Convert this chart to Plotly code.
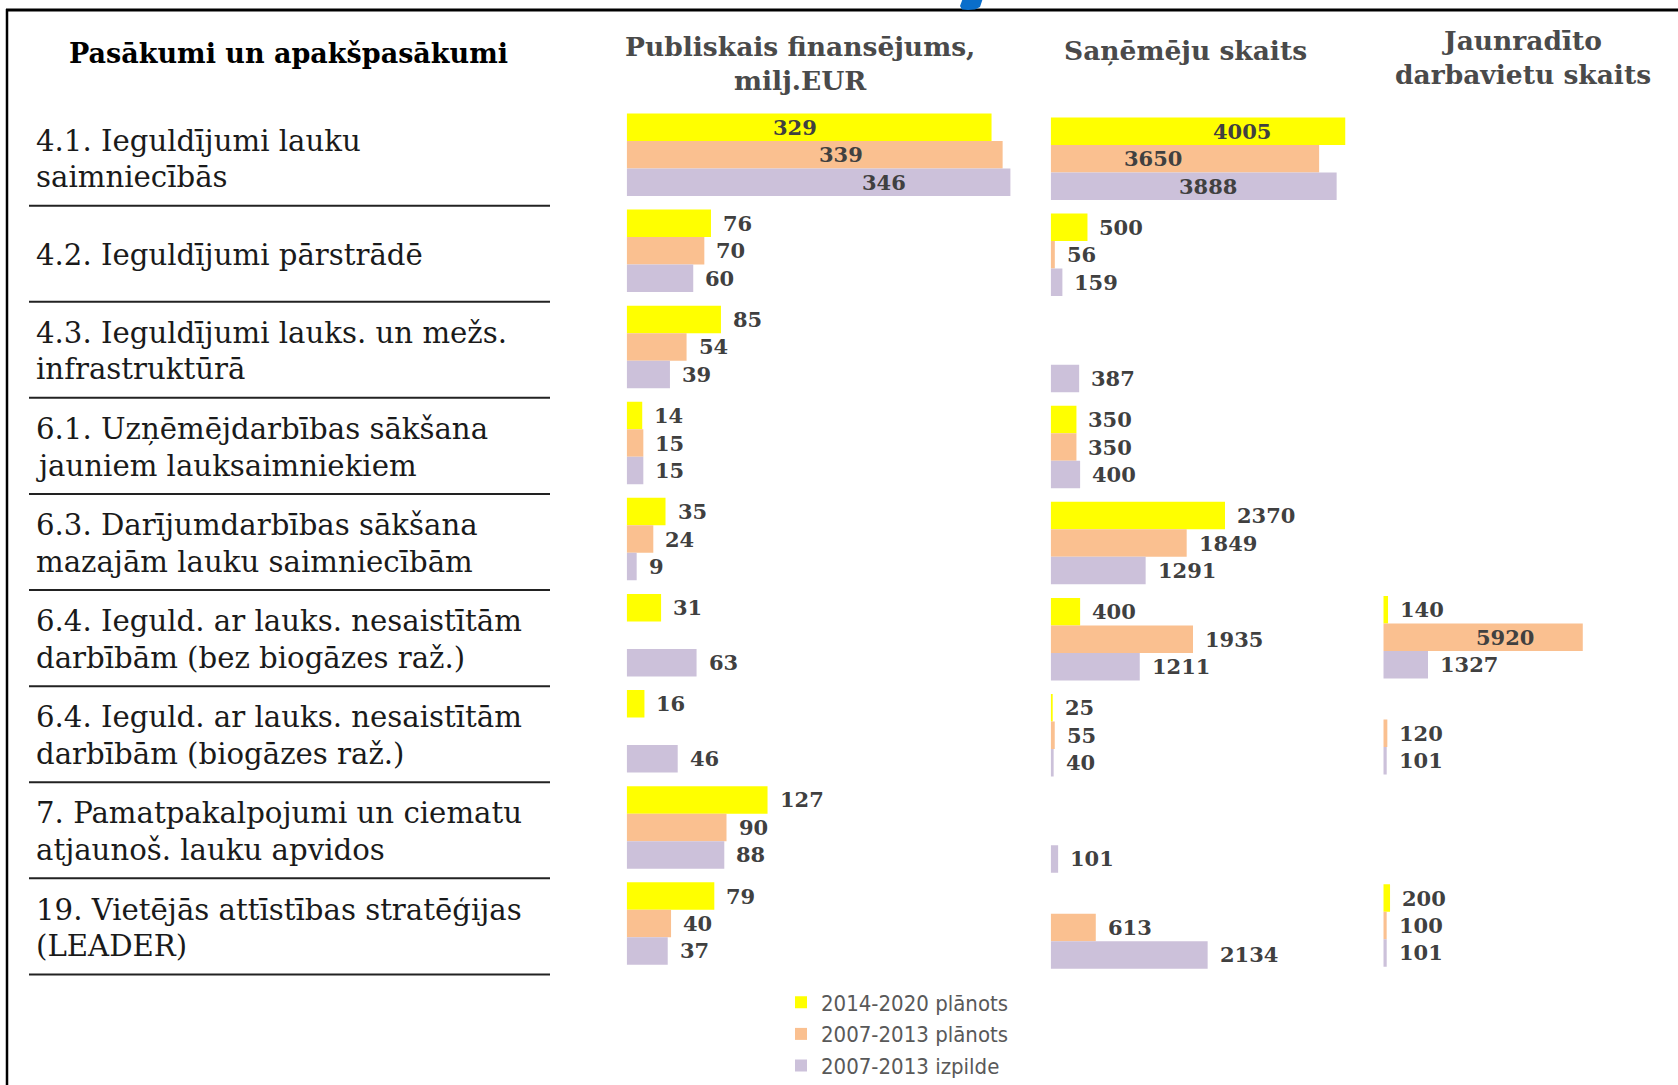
import plotly.graph_objects as go

# ---------------- data ----------------
categories = [
    "4.1. Ieguldījumi lauku<br>saimniecībās",
    "4.2. Ieguldījumi pārstrādē",
    "4.3. Ieguldījumi lauks. un mežs.<br>infrastruktūrā",
    "6.1. Uzņēmējdarbības sākšana<br>jauniem lauksaimniekiem",
    "6.3. Darījumdarbības sākšana<br>mazajām lauku saimniecībām",
    "6.4. Ieguld. ar lauks. nesaistītām<br>darbībām (bez biogāzes raž.)",
    "6.4. Ieguld. ar lauks. nesaistītām<br>darbībām (biogāzes raž.)",
    "7. Pamatpakalpojumi un ciematu<br>atjaunoš. lauku apvidos",
    "19. Vietējās attīstības stratēģijas<br>(LEADER)",
]
series_names = ["2014-2020 plānots", "2007-2013 plānots", "2007-2013 izpilde"]
panel_titles = ["Publiskais finansējums,<br>milj.EUR", "Saņēmēju skaits",
                "Jaunradīto<br>darbavietu skaits"]
row_header = "Pasākumi un apakšpasākumi"

funding_2014_plan = [329, 76, 85, 14, 35, 31, 16, 127, 79]
funding_2007_plan = [339, 70, 54, 15, 24, None, None, 90, 40]
funding_2007_done = [346, 60, 39, 15, 9, 63, 46, 88, 37]

recipients_2014_plan = [4005, 500, None, 350, 2370, 400, 25, None, None]
recipients_2007_plan = [3650, 56, None, 350, 1849, 1935, 55, None, 613]
recipients_2007_done = [3888, 159, 387, 400, 1291, 1211, 40, 101, 2134]

jobs_2014_plan = [None, None, None, None, None, 140, None, None, 200]
jobs_2007_plan = [None, None, None, None, None, 5920, 120, None, 100]
jobs_2007_done = [None, None, None, None, None, 1327, 101, None, 101]

# ---------------- styling ----------------
W, H = 1678, 1085
colors = ["#FFFF00", "#FAC090", "#CCC1DA"]
BARGAP = 0.142
SERIF = "DejaVu Serif, Liberation Serif, serif"
LABEL_COLOR = "#404040"


def px(x):
    return x / W


def py(y):
    return 1 - y / H


# where labels sit inside long bars (fraction of bar length)
inside_label_frac = {
    (0, 0, 0): 0.46, (0, 1, 0): 0.57, (0, 2, 0): 0.67,
    (1, 0, 0): 0.65, (1, 1, 0): 0.38, (1, 2, 0): 0.55,
    (2, 1, 5): 0.61,
}

panels = [
    dict(xa="x", ya="y", dom=(626.7, 1048.1), rng=380, yshift_px=0,
         data=[funding_2014_plan, funding_2007_plan, funding_2007_done],
         title_xy=(800, 63)),
    dict(xa="x2", ya="y2", dom=(1050.7, 1374.3), rng=4400, yshift_px=4,
         data=[recipients_2014_plan, recipients_2007_plan, recipients_2007_done],
         title_xy=(1185, 50)),
    dict(xa="x3", ya="y3", dom=(1383.3, 1669.7), rng=8500, yshift_px=2,
         data=[jobs_2014_plan, jobs_2007_plan, jobs_2007_done],
         title_xy=(1523, 57)),
]

fig = go.Figure()

for p_i, p in enumerate(panels):
    for s_i, vals in enumerate(p["data"]):
        fig.add_trace(go.Bar(
            y=categories, x=vals, orientation="h",
            xaxis=p["xa"], yaxis=p["ya"],
            name=series_names[s_i],
            marker=dict(color=colors[s_i], line=dict(width=0)),
            showlegend=(p_i == 0),
            hoverinfo="skip",
        ))

# rows: first row band starts at 106.65 px, each row 96.1 px tall;
# one spare row below keeps the last separator line inside the subplot
Y_TOP, ROW_H = 106.65, 96.1
n_rows = len(categories)
layout_axes = {}
for p_i, p in enumerate(panels):
    sfx = "" if p_i == 0 else str(p_i + 1)
    top = Y_TOP + p["yshift_px"]
    bot = top + ROW_H * (n_rows + 1)
    layout_axes["xaxis" + sfx] = dict(
        domain=[px(p["dom"][0]), px(p["dom"][1])], range=[0, p["rng"]],
        visible=False, anchor="y" + sfx, fixedrange=True)
    layout_axes["yaxis" + sfx] = dict(
        domain=[py(bot), py(top)],
        range=[n_rows + 0.5, -0.5], autorange=False,
        visible=False, anchor="x" + sfx,
        categoryorder="array", categoryarray=categories, fixedrange=True)

fig.update_layout(**layout_axes)

annotations = []
bar_w = (1 - BARGAP) / 3
label_font = dict(family=SERIF, size=21, color=LABEL_COLOR, weight="bold")

# data labels
for p_i, p in enumerate(panels):
    for s_i, vals in enumerate(p["data"]):
        for r_i, v in enumerate(vals):
            if v is None:
                continue
            yy = r_i + (s_i - 1) * bar_w
            key = (p_i, s_i, r_i)
            if key in inside_label_frac:
                annotations.append(dict(
                    x=v * inside_label_frac[key], y=yy, xref=p["xa"], yref=p["ya"],
                    text=str(v), showarrow=False, xanchor="center", yanchor="middle",
                    font=label_font))
            else:
                annotations.append(dict(
                    x=v, y=yy, xref=p["xa"], yref=p["ya"], xshift=10,
                    text=str(v), showarrow=False, xanchor="left", yanchor="middle",
                    font=label_font))
    # panel titles
    tx, ty = p["title_xy"]
    annotations.append(dict(
        x=px(tx), y=py(ty), xref="paper", yref="paper", text=panel_titles[p_i],
        showarrow=False, xanchor="center", yanchor="middle", align="center",
        font=dict(family=SERIF, size=26.5, color="#4a4a4a", weight="bold")))

# row header
annotations.append(dict(
    x=px(288), y=py(53.5), xref="paper", yref="paper", text=row_header,
    showarrow=False, xanchor="center", yanchor="middle",
    font=dict(family=SERIF, size=27, color="#000000", weight="bold")))

# row labels (one annotation per text line for tighter line spacing)
LINE_STEP = 0.19
for r_i, lab in enumerate(categories):
    lines = lab.split("<br>")
    n = len(lines)
    for l_i, line in enumerate(lines):
        annotations.append(dict(
            x=px(34), y=r_i + 0.045 + (l_i - (n - 1) / 2) * 2 * LINE_STEP,
            xref="paper", yref="y", text=line,
            showarrow=False, xanchor="left", yanchor="middle", align="left",
            font=dict(family=SERIF, size=29.2, color="#1a1a1a")))

shapes = []
# row separators
for r_i in range(n_rows):
    shapes.append(dict(type="line", xref="paper", yref="y",
                       x0=px(29), x1=px(550), y0=r_i + 0.53, y1=r_i + 0.53,
                       line=dict(color="#222222", width=2)))
# frame lines
shapes.append(dict(type="line", xref="paper", yref="paper",
                   x0=px(6), x1=1, y0=py(10), y1=py(10),
                   line=dict(color="#000000", width=3)))
shapes.append(dict(type="line", xref="paper", yref="paper",
                   x0=px(7), x1=px(7), y0=py(9), y1=-0.02,
                   line=dict(color="#000000", width=2.5)))
# fragment of blue glyph cut at the top edge
pts = [(963, -2), (960, 6), (962, 9.5), (968, 10), (975, 9.5), (980, 7), (983, -2)]
path = "M " + " L ".join(f"{px(a):.5f},{py(b):.5f}" for a, b in pts) + " Z"
shapes.append(dict(type="path", xref="paper", yref="paper", path=path,
                   fillcolor="#0A6ECB", line=dict(width=0)))

fig.update_layout(
    width=W, height=H, autosize=False,
    margin=dict(l=0, r=0, t=0, b=0, autoexpand=False),
    paper_bgcolor="white", plot_bgcolor="white",
    barmode="group", bargap=BARGAP, bargroupgap=0,
    annotations=annotations, shapes=shapes,
    hovermode=False,
    legend=dict(x=px(781), y=py(981.5), xanchor="left", yanchor="top",
                font=dict(family="DejaVu Sans Condensed, DejaVu Sans, sans-serif",
                          size=22, color="#595959"),
                bgcolor="rgba(0,0,0,0)", traceorder="normal", tracegroupgap=0),
)

post = (
    "var de=document.documentElement, b=document.body;"
    "de.style.margin='0'; de.style.padding='0'; de.style.overflow='hidden';"
    "b.style.margin='0'; b.style.padding='0'; b.style.overflow='hidden';"
)

fig.write_html("out.html",
               config={"displayModeBar": False, "responsive": False},
               post_script=post)
